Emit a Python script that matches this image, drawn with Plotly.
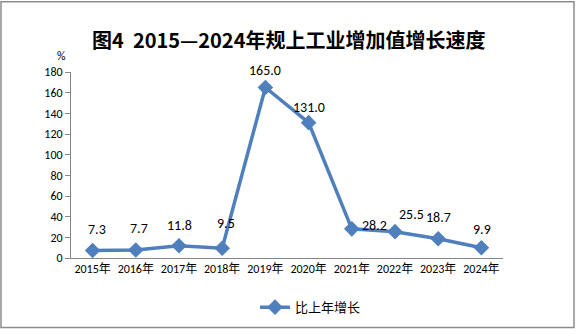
import plotly.graph_objects as go

years = ["2015年", "2016年", "2017年", "2018年", "2019年", "2020年", "2021年", "2022年", "2023年", "2024年"]
growth = [7.3, 7.7, 11.8, 9.5, 165.0, 131.0, 28.2, 25.5, 18.7, 9.9]
label_dx = [4, 3, 0, 4, 0, 0, 23, 16, 0, 1]
label_dy = [21, 22, 20, 25, 17, 15, 3, 17, 21, 18]
y_ticks = [0, 20, 40, 60, 80, 100, 120, 140, 160, 180]

W, H = 576, 334
ML, MR, MT, MB = 71, 73, 72, 73
color = "#4F7FBC"
cjk = "Calibri, Carlito, 'Noto Sans CJK SC', sans-serif"

fig = go.Figure()
fig.add_trace(go.Scatter(
    x=years, y=growth, mode="lines+markers", name="比上年增长",
    line=dict(color=color, width=3.5),
    marker=dict(symbol="diamond", size=12, color=color),
))

for x, y, dx, dy in zip(years, growth, label_dx, label_dy):
    fig.add_annotation(x=x, y=y, text=f"{y:.1f}", showarrow=False,
                       xshift=dx, yshift=dy,
                       font=dict(size=14, color="#000", family=cjk))

pw = W - ML - MR
ph = H - MT - MB
fig.add_shape(type="rect", xref="paper", yref="paper",
              x0=(-ML + 1) / pw, x1=(W - ML - 2) / pw,
              y0=-(MB - 2.5) / ph, y1=(H - MB - 0.5) / ph,
              line=dict(color="#8C8C8C", width=1.5), layer="below")

fig.add_annotation(xref="paper", yref="paper", x=(288 - ML) / pw, y=(H - MB - 22) / ph,
                   text="<b>图4  2015—2024年规上工业增加值增长速度</b>", showarrow=False,
                   font=dict(size=20, color="#000", family="'Noto Sans CJK SC', sans-serif"))
fig.add_annotation(xref="paper", yref="paper", x=(55 - ML) / pw, y=(H - MB - 47) / ph,
                   text="%", showarrow=False,
                   font=dict(size=12, color="#000", family=cjk))

fig.update_layout(
    width=W, height=H,
    margin=dict(l=ML, r=MR, t=MT, b=MB),
    plot_bgcolor="white", paper_bgcolor="white",
    showlegend=True,
    legend=dict(orientation="h", x=(255 - ML) / pw, xanchor="left",
                y=-(311 - (H - MB)) / ph, yanchor="middle",
                font=dict(size=13, color="#000", family="'Noto Sans CJK SC', sans-serif"),
                itemwidth=30),
    xaxis=dict(type="category", showline=True, linecolor="#868686", linewidth=1,
               ticks="", showgrid=False, tickfont=dict(size=12, color="#000", family=cjk),
               range=[-0.5, 9.5]),
    yaxis=dict(range=[0, 180], tickvals=y_ticks, showline=True, linecolor="#868686",
               linewidth=1, ticks="outside", ticklen=5, tickcolor="#868686",
               showgrid=False, zeroline=False,
               tickfont=dict(size=12, color="#000", family=cjk)),
)

fig.write_html("out.html")
